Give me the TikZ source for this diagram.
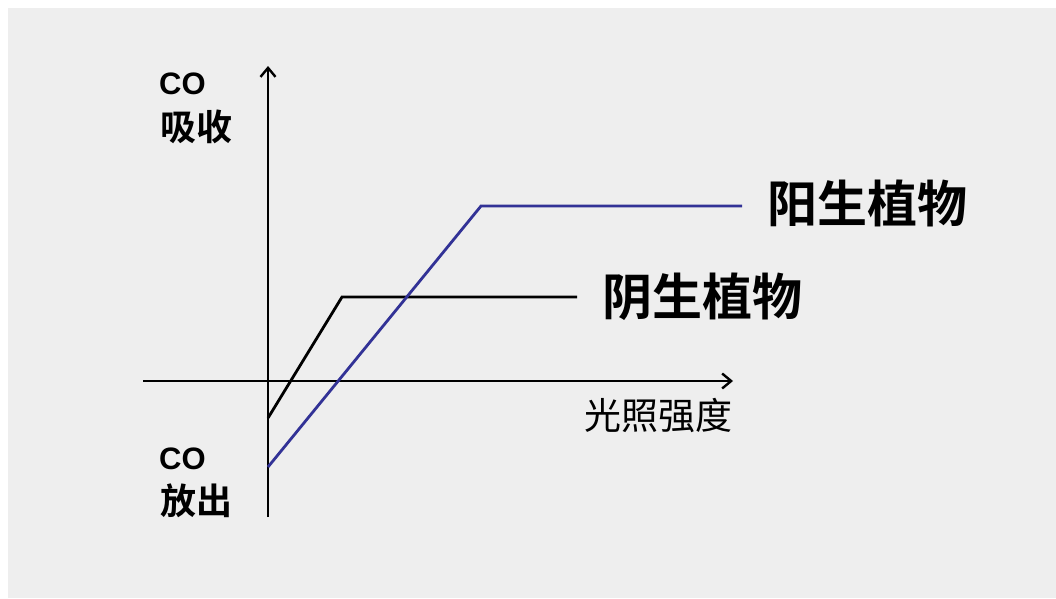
\documentclass[tikz,border=0pt]{standalone}
\usepackage{fontspec}
\setmainfont{Liberation Sans}
\newfontfamily\cjk{Noto Sans CJK SC}
\newfontfamily\cjkb{Noto Sans CJK SC Bold}
\usetikzlibrary{arrows.meta}
\definecolor{bggrey}{RGB}{238,238,238}
\definecolor{sunblue}{RGB}{50,50,150}
\begin{document}
\begin{tikzpicture}[x=1pt,y=-1pt,
  axis/.style={line width=2.6pt,-{Straight Barb[length=9pt,width=15pt,line width=2.4pt]}},
  curve/.style={line width=2.8pt},
  lbl/.style={inner sep=0pt,anchor=west},
  big/.style={lbl,font=\cjkb\fontsize{50}{54}\selectfont},
  co/.style={inner sep=0pt,anchor=north west,font=\bfseries\fontsize{31}{34}\selectfont},
  cjklab/.style={inner sep=0pt,anchor=north west,font=\cjkb\fontsize{36}{40}\selectfont}]
\useasboundingbox (0,0) rectangle (1056,598);
\fill[bggrey] (8,8) rectangle (1056,598);
% axes
\coordinate (ybot) at (268,517);
\coordinate (ytop) at (268,66);
\coordinate (xl) at (143,381);
\coordinate (xr) at (733,381);
\draw[axis] (ybot) -- (ytop);
\draw[axis] (xl) -- (xr);
% shade plant
\coordinate (s0) at (268,418);
\coordinate (s1) at (342,297);
\coordinate (s2) at (577,297);
\draw[curve,black] (s0) -- (s1) -- (s2);
% sun plant
\coordinate (u0) at (268,467);
\coordinate (u1) at (481,206);
\coordinate (u2) at (742,206);
\draw[curve,sunblue] (u0) -- (u1) -- (u2);
% labels
\node[big] (sun) at (767,203) {阳生植物};
\node[big] (shade) at (602,297) {阴生植物};
\node[lbl,font=\cjk\fontsize{37}{40}\selectfont] (xlab) at (584,415) {光照强度};
\node[co] (abco) at (159,73) {CO};
\node[cjklab] (ab) at (160,110) {吸收};
\node[co] (emco) at (159,448) {CO};
\node[cjklab] (em) at (160,484) {放出};
\end{tikzpicture}
\end{document}
